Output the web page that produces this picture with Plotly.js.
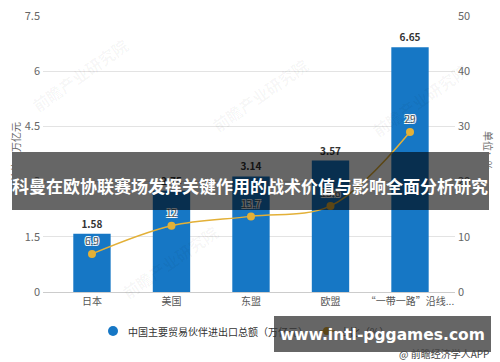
<!DOCTYPE html>
<html>
<head>
<meta charset="utf-8">
<script src="https://cdn.plot.ly/plotly-3.0.1.min.js"></script>
<style>html,body{margin:0;padding:0;background:#fff;}#chart{width:500px;height:362px;}</style>
</head>
<body>
<div id="chart"></div>
<script>
const categories = ["日本", "美国", "东盟", "欧盟", "“一带一路”沿线..."];
const tradeTotal = [1.58, 2.75, 3.14, 3.57, 6.65];
const sharePct = [6.9, 12, 13.7, 15.6, 29];
const leftTicks = [0, 1.5, 3, 4.5, 6, 7.5];
const rightTicks = [0, 10, 20, 30, 40, 50];
const barName = "中国主要贸易伙伴进出口总额（万亿元）";
const lineName = "占比（%）";
const titleText = "科曼在欧协联赛场发挥关键作用的战术价值与影响全面分析研究";
const siteText = "www.intl-pggames.com";
const sourceText = "@ 前瞻经济学人APP";
const watermark = "前瞻产业研究院";

const FONT = "Noto Sans CJK SC, Noto Sans, sans-serif";
const BAR = "#1677c5";
const GOLD = "#e3b037";

const idx = categories.map((c, i) => i);

const traces = [
  {
    type: "bar", x: idx, y: tradeTotal, width: 0.47,
    marker: {color: BAR}, text: tradeTotal.map(v => v.toFixed(2)),
    textposition: "outside", cliponaxis: false,
    textfont: {family: FONT, size: 10, color: "#333", weight: 700},
    hoverinfo: "skip", showlegend: false
  },
  {
    type: "scatter", mode: "lines+markers+text", x: idx, y: sharePct, yaxis: "y2",
    line: {color: GOLD, width: 1.5, shape: "spline"},
    marker: {color: GOLD, size: 8},
    text: sharePct.map(String), textposition: "top center", cliponaxis: false,
    textfont: {family: FONT, size: 10, color: "#555",
      shadow: "1px 1px 0 #fff, -1px -1px 0 #fff, 1px -1px 0 #fff, -1px 1px 0 #fff"},
    hoverinfo: "skip", showlegend: false
  }
];

const px = p => (p - 43) / 412;
const py = p => (292 - p) / 276;

function ann(text, x, y, xa, opts) {
  return Object.assign({text: text, xref: "paper", yref: "paper", x: px(x), y: py(y),
    xanchor: xa, yanchor: "middle", showarrow: false}, opts);
}

const annotations = [
  ann("单位：万亿元", 15, 152, "center", {textangle: -90, font: {family: FONT, size: 10, color: "#666"}}),
  ann("单位：%", 489, 150, "center", {textangle: 90, font: {family: FONT, size: 10, color: "#666"}}),
  ann(barName, 126, 331, "left", {font: {family: FONT, size: 10, color: "#333"}}),
  ann(lineName, 338, 331, "left", {font: {family: FONT, size: 10, color: "#333"}}),
  ann(sourceText, 491, 353, "right", {font: {family: FONT, size: 10, color: "#444"}}),
  ann(titleText, 250, 185, "center", {font: {family: FONT, size: 17, color: "#fff", weight: 700}}),
  ann(siteText, 382, 335, "center", {font: {family: "DejaVu Sans, sans-serif", size: 15.5, color: "#fff", weight: 700}})
];

const wmPos = [[80, 75], [260, 95], [170, 262], [420, 100]];
wmPos.forEach(p => annotations.unshift(
  ann(watermark, p[0], p[1], "center", {textangle: -35,
    font: {family: FONT, size: 16, color: "rgba(0,0,0,0.04)", weight: 700}})
));

const shapes = [
  {type: "circle", xref: "paper", yref: "paper", layer: "above",
   x0: px(108), x1: px(118), y0: py(326), y1: py(336), fillcolor: BAR, line: {width: 0}},
  {type: "line", xref: "paper", yref: "paper", layer: "above",
   x0: px(319), x1: px(335), y0: py(331), y1: py(331), line: {color: GOLD, width: 1.5}},
  {type: "circle", xref: "paper", yref: "paper", layer: "above",
   x0: px(323), x1: px(331), y0: py(327), y1: py(335), fillcolor: GOLD, line: {width: 0}},
  {type: "rect", xref: "paper", yref: "paper", layer: "above",
   x0: px(12), x1: px(489), y0: py(210), y1: py(152), fillcolor: "rgba(0,0,0,0.6)", line: {width: 0}},
  {type: "rect", xref: "paper", yref: "paper", layer: "above",
   x0: px(274), x1: px(491), y0: py(352), y1: py(316), fillcolor: "rgba(0,0,0,0.6)", line: {width: 0}}
];

const layout = {
  width: 500, height: 362,
  margin: {l: 43, r: 45, t: 16, b: 70},
  paper_bgcolor: "#fff", plot_bgcolor: "#fff",
  font: {family: FONT, size: 11, color: "#666"},
  showlegend: false,
  xaxis: {
    range: [-0.616, 4.566], tickvals: idx, ticktext: categories,
    showgrid: false, zeroline: false, showline: true, linecolor: "#ccc", linewidth: 1,
    ticks: "", tickfont: {family: FONT, size: 10, color: "#555"}, fixedrange: true
  },
  yaxis: {
    range: [0, 7.5], tickvals: leftTicks, ticktext: leftTicks.map(String),
    showgrid: true, gridcolor: "#e3e3e3", zeroline: false, showline: false,
    ticks: "", ticklabelstandoff: 2, tickfont: {family: FONT, size: 11, color: "#666"}
  },
  yaxis2: {
    range: [0, 50], tickvals: rightTicks, ticktext: rightTicks.map(String),
    overlaying: "y", side: "right", showgrid: false, zeroline: false, showline: false,
    ticks: "", ticklabelstandoff: 2, tickfont: {family: FONT, size: 11, color: "#666"}
  },
  annotations: annotations,
  shapes: shapes
};

Plotly.newPlot("chart", traces, layout, {displayModeBar: false, staticPlot: true});
</script>
</body>
</html>
